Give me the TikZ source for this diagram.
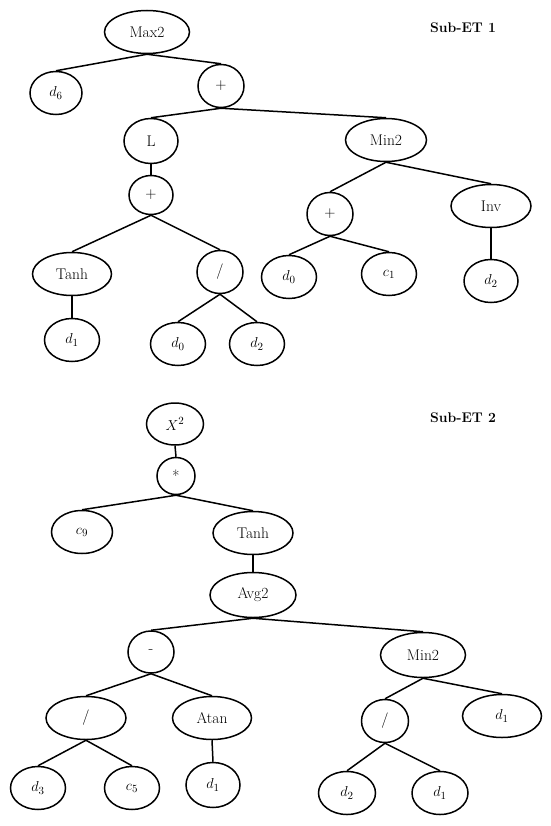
\documentclass[tikz,border=0pt]{standalone}
\usetikzlibrary{shapes.geometric}
\tikzset{treenode/.style={ellipse, draw, line width=1.5pt, inner sep=0pt, minimum height=43pt, font=\fontsize{15.5}{18}\selectfont}}
\tikzset{narrownode/.style={treenode, minimum width=46pt}}
\tikzset{leafnode/.style={treenode, minimum width=55pt}}
\tikzset{widenode/.style={treenode, minimum width=80pt}}
\tikzset{title/.style={font=\fontsize{14}{16}\selectfont\bfseries}}
\tikzstyle{edge} = [line width=1.5pt]

\begin{document}
\begin{tikzpicture}[x=1pt, y=-1pt]
	\useasboundingbox (0,0) rectangle (550,826);

	% Sub-ET 1
	\node (titleone) [title] at (463,28) {Sub-ET 1};
	\node (maxtwo) [widenode, minimum width=85pt] at (147,32) {Max2};
	\node (dsix) [leafnode, minimum width=52pt] at (56,93) {$d_6$};
	\node (plustop) [narrownode] at (221,86) {+};
	\node (ell) [narrownode, minimum width=54pt, minimum height=45pt] at (151,141) {L};
	\node (plusmid) [narrownode, minimum width=44pt, minimum height=39pt] at (151,195) {+};
	\node (mintwoa) [widenode, minimum width=81pt] at (386,140) {Min2};
	\node (tanha) [widenode, minimum width=79pt] at (72,274) {Tanh};
	\node (divtop) [narrownode] at (220,272) {/};
	\node (donea) [leafnode] at (72,340) {$d_1$};
	\node (dzeroa) [leafnode] at (178,344) {$d_0$};
	\node (dtwoa) [leafnode] at (257,344) {$d_2$};
	\node (plusright) [narrownode] at (330,214) {+};
	\node (inv) [widenode] at (491,206) {Inv};
	\node (dzerob) [leafnode] at (289,277) {$d_0$};
	\node (cone) [leafnode] at (389,274) {$c_1$};
	\node (dtwob) [leafnode, minimum width=54pt] at (491,281) {$d_2$};

	% Sub-ET 2
	\node (titletwo) [title] at (463,418) {Sub-ET 2};
	\node (xsquare) [leafnode, minimum width=57pt, minimum height=42pt] at (175,424) {$X^2$};
	\node (times) [narrownode, minimum width=38pt, minimum height=37pt] at (176,476) {*};
	\node (cnine) [leafnode, minimum width=61pt] at (82,532) {$c_9$};
	\node (tanhb) [widenode] at (253,533) {Tanh};
	\node (avgtwo) [widenode, minimum width=86pt, minimum height=45pt] at (253,595) {Avg2};
	\node (minus) [narrownode, minimum height=42pt] at (151,652) {-};
	\node (divleft) [widenode] at (86,718) {/};
	\node (atan) [widenode, minimum width=79pt] at (212,718) {Atan};
	\node (dthree) [leafnode] at (38,788) {$d_3$};
	\node (cfive) [leafnode] at (132,788) {$c_5$};
	\node (doneb) [leafnode, minimum width=54pt, minimum height=45pt] at (213,785) {$d_1$};
	\node (mintwob) [widenode, minimum width=85pt, minimum height=45pt] at (423,655) {Min2};
	\node (divright) [narrownode, minimum width=47pt] at (385,721) {/};
	\node (donec) [widenode, minimum width=79pt] at (502,716) {$d_1$};
	\node (dtwoc) [leafnode, minimum width=57pt] at (347,793) {$d_2$};
	\node (doned) [leafnode, minimum width=56pt] at (440,793) {$d_1$};

	% Connectors
	\begin{scope}[edge]
	\draw (maxtwo.south) -- (dsix.north);
	\draw (maxtwo.south) -- (plustop.north);
	\draw (plustop.south) -- (ell.north);
	\draw (plustop.south) -- (mintwoa.north);
	\draw (ell.south) -- (plusmid.north);
	\draw (plusmid.south) -- (tanha.north);
	\draw (plusmid.south) -- (divtop.north);
	\draw (tanha.south) -- (donea.north);
	\draw (divtop.south) -- (dzeroa.north);
	\draw (divtop.south) -- (dtwoa.north);
	\draw (mintwoa.south) -- (plusright.north);
	\draw (mintwoa.south) -- (inv.north);
	\draw (plusright.south) -- (dzerob.north);
	\draw (plusright.south) -- (cone.north);
	\draw (inv.south) -- (dtwob.north);

	\draw (xsquare.south) -- (times.north);
	\draw (times.south) -- (cnine.north);
	\draw (times.south) -- (tanhb.north);
	\draw (tanhb.south) -- (avgtwo.north);
	\draw (avgtwo.south) -- (minus.north);
	\draw (avgtwo.south) -- (mintwob.north);
	\draw (minus.south) -- (divleft.north);
	\draw (minus.south) -- (atan.north);
	\draw (divleft.south) -- (dthree.north);
	\draw (divleft.south) -- (cfive.north);
	\draw (atan.south) -- (doneb.north);
	\draw (mintwob.south) -- (divright.north);
	\draw (mintwob.south) -- (donec.north);
	\draw (divright.south) -- (dtwoc.north);
	\draw (divright.south) -- (doned.north);
	\end{scope}

\end{tikzpicture}
\end{document}
